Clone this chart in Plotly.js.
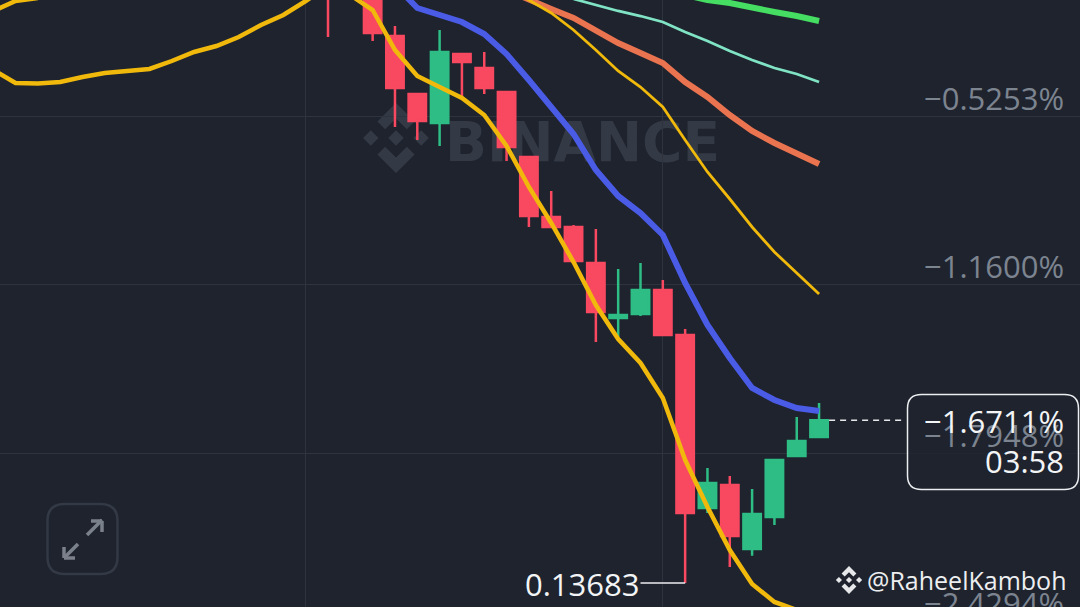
<!DOCTYPE html>
<html>
<head>
<meta charset="utf-8">
<script src="https://cdn.plot.ly/plotly-3.0.1.min.js"></script>
<style>html,body{margin:0;padding:0;background:#1e232e;overflow:hidden}#chart{width:1080px;height:607px}</style>
</head>
<body>
<div id="chart"></div>
<script>
// Candle data (percent)
const candleIndex = [0,1,2,3,4,5,6,7,8,9,10,11,12,13,14,15,16,17,18,19,20,21,22];
const candleOpen  = [-0.0130,0.0624,-0.0356,-0.2239,-0.4424,-0.5516,-0.2917,-0.3445,-0.4349,-0.6797,-0.9057,-0.9434,-1.0790,-1.2862,-1.2711,-1.1807,-1.3502,-2.0019,-1.9153,-2.1564,-2.0358,-1.8061,-1.7345];
const candleHigh  = [0.0247,0.1000,-0.0130,-0.1862,-0.4424,-0.2013,-0.2917,-0.2842,-0.4349,-0.6797,-0.8078,-0.9359,-0.9510,-1.1016,-1.0790,-1.1431,-1.3276,-1.8513,-1.8814,-1.9304,-1.8211,-1.6591,-1.6064];
const candleLow   = [-0.2277,-0.0695,-0.2428,-0.5667,-0.6157,-0.6383,-0.4537,-0.4424,-0.6948,-0.9434,-0.9434,-1.0715,-1.3766,-1.3578,-1.2787,-1.3502,-2.2845,-2.0208,-2.2242,-2.1816,-2.0660,-1.8061,-1.7345];
const candleClose = [-0.0657,-0.0356,-0.2126,-0.4198,-0.5441,-0.2842,-0.3219,-0.4198,-0.6421,-0.9020,-0.9434,-1.0715,-1.2636,-1.2749,-1.1807,-1.3502,-2.0208,-1.9078,-2.1074,-2.0245,-1.8211,-1.7496,-1.6711];

// Moving averages
const yellowThickX = [-15,-14,-13,-12,-11,-10,-9,-8,-7,-6,-5,-4,-3,-2,-1,0,1,2,3,4,5,6,7,8,9,10,11,12,13,14,15,16,17,18,19,20,21];
const yellowThickY = [-0.3520,-0.4010,-0.4028,-0.3972,-0.3784,-0.3633,-0.3558,-0.3482,-0.3181,-0.2842,-0.2616,-0.2277,-0.1825,-0.1448,-0.0921,-0.0356,-0.0695,-0.1260,-0.2767,-0.3746,-0.4160,-0.4575,-0.5215,-0.6383,-0.7927,-0.9283,-1.0753,-1.2373,-1.3654,-1.4557,-1.5876,-1.8211,-1.9982,-2.1602,-2.2882,-2.3560,-2.3862];
const yellowTopX = [-15,-14,-13];
const yellowTopY = [-0.1297,-0.0921,-0.0808];
const blueX = [2,3,4,5,6,7,8,9,10,11,12,13,14,15,16,17,18,19,20,21,22];
const blueY = [0.0247,-0.0318,-0.1184,-0.1448,-0.1712,-0.2164,-0.2917,-0.3897,-0.4876,-0.5931,-0.7287,-0.8266,-0.8907,-0.9735,-1.1544,-1.3126,-1.4369,-1.5499,-1.5951,-1.6252,-1.6365];
const salmonX = [8,9,10,11,12,13,14,15,16,17,18,19,20,21,22];
const salmonY = [-0.0506,-0.0883,-0.1222,-0.1561,-0.2051,-0.2503,-0.2880,-0.3256,-0.3972,-0.4537,-0.5215,-0.5818,-0.6270,-0.6684,-0.7061];
const yellowThinX = [8,9,10,11,12,13,14,15,16,17,18,19,20,21,22];
const yellowThinY = [-0.0431,-0.0883,-0.1373,-0.2013,-0.2767,-0.3558,-0.4160,-0.4914,-0.6157,-0.7362,-0.8379,-0.9434,-1.0376,-1.1167,-1.1958];
const mintX = [11,12,13,14,15,16,17,18,19,20,21,22];
const mintY = [-0.0845,-0.1071,-0.1297,-0.1486,-0.1712,-0.2088,-0.2427,-0.2804,-0.3143,-0.3445,-0.3671,-0.3972];
const greenX = [16,17,18,19,20,21,22];
const greenY = [-0.0695,-0.0883,-0.0996,-0.1184,-0.1335,-0.1486,-0.1674];

// Axis, labels
const yGrid = [-0.5253,-1.1600,-1.7948];
const yGridLabels = ['−0.5253%','−1.1600%','−1.7948%'];
const offscreenLabel = '−2.4294%';
const xGrid = [-1,15];
const lastPrice = -1.6711;
const lastPriceLabel = '−1.6711%';
const countdownLabel = '03:58';
const lowLabel = '0.13683';
const lowValue = -2.2845;
const lowIndex = 16;
const brandText = 'BINANCE';
const authorText = '@RaheelKamboh';

const W = 1080, H = 607;
const FONT = '"Open Sans", sans-serif';
const px = x => x / W;
const py = y => 1 - y / H;

function poly(cx, cy, r, pts) {
  return 'M' + pts.map(p => px(cx + p[0] * r) + ',' + py(cy + p[1] * r)).join('L') + 'Z';
}
function binanceLogo(cx, cy, r, color) {
  const dia = (dx) => [[dx, -0.22], [dx + 0.22, 0], [dx, 0.22], [dx - 0.22, 0]];
  const top = [[0,-1],[0.53,-0.47],[0.31,-0.25],[0,-0.56],[-0.31,-0.25],[-0.53,-0.47]];
  const bot = top.map(p => [p[0], -p[1]]);
  const d = [dia(0), dia(-0.72), dia(0.72), top, bot].map(p => poly(cx, cy, r, p)).join(' ');
  return {type:'path', xref:'paper', yref:'paper', path:d, fillcolor:color, line:{width:0}, layer:'below'};
}
function seg(x0,y0,x1,y1,color,width){
  return {type:'line',xref:'paper',yref:'paper',x0:px(x0),y0:py(y0),x1:px(x1),y1:py(y1),line:{color:color,width:width},layer:'above'};
}
function roundRect(x0,y0,x1,y1,r){
  const P=(x,y)=>px(x)+','+py(y);
  return 'M'+P(x0+r,y0)+'L'+P(x1-r,y0)+'Q'+P(x1,y0)+' '+P(x1,y0+r)+'L'+P(x1,y1-r)+'Q'+P(x1,y1)+' '+P(x1-r,y1)+'L'+P(x0+r,y1)+'Q'+P(x0,y1)+' '+P(x0,y1-r)+'L'+P(x0,y0+r)+'Q'+P(x0,y0)+' '+P(x0+r,y0)+'Z';
}

const lineTrace = (x, y, color, width) => ({type:'scatter', mode:'lines', x, y, line:{color, width, shape:'linear'}, hoverinfo:'skip', showlegend:false});

const traces = [
  {type:'candlestick', x:candleIndex, open:candleOpen, high:candleHigh, low:candleLow, close:candleClose,
   whiskerwidth:0, showlegend:false, hoverinfo:'skip',
   increasing:{line:{color:'#2ebd85',width:2.5}, fillcolor:'#2ebd85'},
   decreasing:{line:{color:'#f84960',width:2.5}, fillcolor:'#f84960'}},
  lineTrace(greenX, greenY, '#45dd62', 6),
  lineTrace(mintX, mintY, '#7fe3c4', 2.8),
  lineTrace(salmonX, salmonY, '#e9744f', 6),
  lineTrace(yellowThinX, yellowThinY, '#f0b90b', 2.8),
  lineTrace(blueX, blueY, '#4a5be6', 6),
  lineTrace(yellowTopX, yellowTopY, '#f0b90b', 4.5),
  lineTrace(yellowThickX, yellowThickY, '#f0b90b', 4.5)
];

const gridLabelAnn = (t, yc) => ({xref:'paper', yref:'paper', x:px(1066), y:py(yc), xanchor:'right', yanchor:'middle', text:t, showarrow:false, font:{family:FONT, size:31, color:'#7c8490'}});

const annotations = [
  gridLabelAnn(yGridLabels[0], 97.5),
  gridLabelAnn(yGridLabels[1], 266.5),
  gridLabelAnn(yGridLabels[2], 435),
  gridLabelAnn(offscreenLabel, 603),
  {xref:'paper',yref:'paper',x:px(1066),y:py(421),xanchor:'right',yanchor:'middle',text:lastPriceLabel,showarrow:false,font:{family:FONT,size:31,color:'#f3f4f5'}},
  {xref:'paper',yref:'paper',x:px(1066),y:py(461),xanchor:'right',yanchor:'middle',text:countdownLabel,showarrow:false,font:{family:FONT,size:31,color:'#f3f4f5'}},
  {xref:'paper',yref:'paper',x:px(642),y:py(584),xanchor:'right',yanchor:'middle',text:lowLabel,showarrow:false,font:{family:FONT,size:31,color:'#f3f4f5'}},
  {xref:'paper',yref:'paper',x:px(1068),y:py(580),xanchor:'right',yanchor:'middle',text:authorText,showarrow:false,font:{family:FONT,size:25,color:'#eceef0'}}
];

const shapes = [
  // watermark
  binanceLogo(396, 138, 35, '#343a45'),
  {type:'rect', xref:'paper', yref:'paper', x0:px(447), x1:px(718), y0:py(110), y1:py(166), line:{width:0}, fillcolor:'rgba(0,0,0,0)', layer:'below',
   label:{text:'<b>'+brandText+'</b>', font:{family:'DejaVu Sans, sans-serif', size:55, color:'#343a45'}, textposition:'middle center'}},
  // last price guide and tag
  {type:'line', xref:'x', yref:'y', x0:22.45, x1:25.9, y0:lastPrice, y1:lastPrice, line:{color:'#e6e8ea', width:1.5, dash:'6px 5px'}},
  {type:'path', xref:'paper', yref:'paper', path:roundRect(907.5,394.5,1078.5,489.5,14), line:{color:'#eceef0', width:1.5}, fillcolor:'rgba(30,35,46,0.82)'},
  // low price leader
  {type:'line', xref:'x', yref:'y', x0:lowIndex-2.0, x1:lowIndex, y0:lowValue, y1:lowValue, line:{color:'#eceef0', width:1.5}},
  // expand icon
  {type:'path', xref:'paper', yref:'paper', path:roundRect(47.5,504,117.5,574,17), line:{color:'#333945', width:2.5}, fillcolor:'rgba(0,0,0,0)'},
  seg(87,535,102,520,'#7b818b',3.5), seg(91,521,102,521,'#7b818b',3.5), seg(102,521,102,532,'#7b818b',3.5),
  seg(78,544,64,558,'#7b818b',3.5), seg(64,547,64,558,'#7b818b',3.5), seg(64,558,75,558,'#7b818b',3.5),
  // author logo
  Object.assign(binanceLogo(849, 580, 14, '#e6e8ea'), {layer:'above'})
];

const layout = {
  width:W, height:H,
  margin:{l:0,r:0,t:0,b:0,pad:0},
  paper_bgcolor:'#1e232e', plot_bgcolor:'#1e232e',
  showlegend:false, hovermode:false,
  boxgap:0.22, boxgroupgap:0,
  xaxis:{range:[-14.695,33.69], tickvals:xGrid, showticklabels:false, ticks:'', gridcolor:'#2e333e', gridwidth:1, zeroline:false, showline:false, rangeslider:{visible:false}, fixedrange:true},
  yaxis:{range:[-2.3749,-0.0883], tickvals:yGrid, showticklabels:false, ticks:'', gridcolor:'#2e333e', gridwidth:1, zeroline:false, showline:false, fixedrange:true},
  shapes, annotations
};
Plotly.newPlot('chart', traces, layout, {displayModeBar:false, staticPlot:true});
</script>
</body>
</html>
